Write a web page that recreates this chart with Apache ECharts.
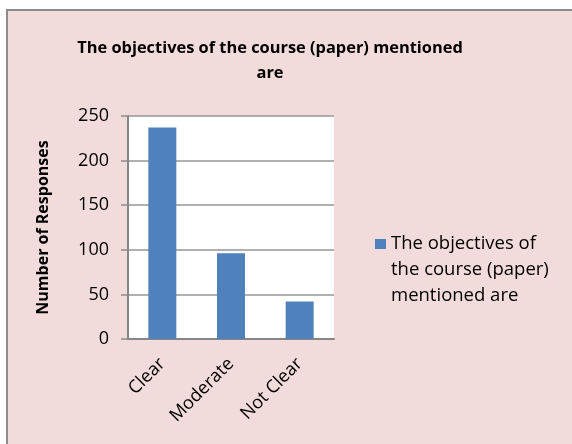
<!DOCTYPE html>
<html>
<head>
<meta charset="utf-8">
<script src="https://cdn.jsdelivr.net/npm/echarts@6/dist/echarts.min.js"></script>
<style>
    html, body { margin: 0; padding: 0; background: #fff; }
    #chart { width: 572px; height: 444px; }
</style>
</head>
<body>
<div id="chart"></div>
<script>
// data
var categories = ['Clear', 'Moderate', 'Not Clear']
var responses = [237, 96, 42]
var seriesName = 'The objectives of the course (paper) mentioned are'
var yTicks = [0, 50, 100, 150, 200, 250]

var font = 'Open Sans'
var myChart = echarts.init(document.getElementById('chart'))

var option = {
    backgroundColor: '#ffffff',
    textStyle: { fontFamily: font },
    // pink chart area with border (cut off on right/bottom like the reference)
    graphic: [
        {
            type: 'rect',
            z: -10,
            silent: true,
            shape: { x: 7, y: 10, width: 600, height: 500 },
            style: { fill: '#f2dcdb', stroke: '#8c8c8c', lineWidth: 2 },
        },
    ],
    title: {
        text: 'The objectives of the course (paper) mentioned\nare',
        left: 270,
        top: 36,
        padding: 0,
        textAlign: 'center',
        textStyle: {
            fontFamily: font,
            fontWeight: 'bold',
            fontSize: 16.4,
            lineHeight: 25,
            color: '#000',
        },
    },
    legend: {
        left: 375,
        top: 179,
        padding: 0,
        itemWidth: 11,
        itemHeight: 10,
        icon: 'rect',
        data: [seriesName],
        // two blank lines first so the marker sits beside the first text line
        formatter: function() {
            return '\n\nThe objectives of\nthe course (paper)\nmentioned are'
        },
        textStyle: {
            fontFamily: font,
            fontSize: 18.5,
            lineHeight: 26,
            color: '#000',
        },
    },
    grid: {
        left: 128,
        right: 238,
        top: 116,
        bottom: 105,
        show: true,
        backgroundColor: '#ffffff',
        borderWidth: 0,
    },
    xAxis: {
        type: 'category',
        data: categories,
        axisLine: { lineStyle: { color: '#868686', width: 2 } },
        axisTick: { show: false },
        axisLabel: {
            rotate: 45,
            fontFamily: font,
            fontSize: 18,
            color: '#000',
            margin: 22,
        },
    },
    yAxis: {
        type: 'value',
        min: yTicks[0],
        max: yTicks[yTicks.length - 1],
        interval: 50,
        name: 'Number of Responses',
        nameLocation: 'middle',
        nameGap: 77,
        nameTextStyle: {
            fontFamily: font,
            fontWeight: 'bold',
            fontSize: 16,
            color: '#000',
        },
        axisLine: { show: true, lineStyle: { color: '#868686', width: 2 } },
        axisTick: { show: true, length: 7, lineStyle: { color: '#8c8c8c', width: 1.5 } },
        axisLabel: {
            fontFamily: font,
            fontSize: 18,
            color: '#000',
            margin: 19,
        },
        splitLine: { lineStyle: { color: '#969696', width: 1.5 } },
    },
    series: [
        {
            name: seriesName,
            type: 'bar',
            data: responses,
            barWidth: 28,
            itemStyle: { color: '#4f81bd' },
        },
    ],
}

myChart.setOption(option)
</script>
</body>
</html>
